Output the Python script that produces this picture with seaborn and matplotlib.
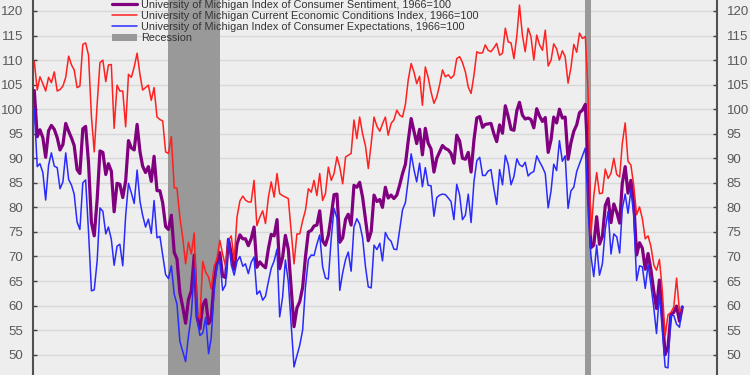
import pandas as pd
import matplotlib
matplotlib.use('Agg')
import matplotlib.pyplot as plt
import seaborn as sns

# 월별 지수 (2004-01 ~ 2022-12)
start_month = '2004-01-01'

sentiment = [
    103.8, 94.4, 95.8, 94.2, 90.2, 95.6, 96.7, 95.9, 94.2, 91.7, 92.8, 97.1,
    95.5, 94.1, 92.6, 87.7, 86.9, 96.0, 96.5, 89.1, 76.9, 74.2, 81.6, 91.5,
    91.2, 86.7, 88.9, 87.4, 79.1, 84.9, 84.7, 82.0, 85.4, 93.6, 92.1, 91.7,
    96.9, 91.3, 88.4, 87.1, 88.3, 85.3, 90.4, 83.4, 83.4, 80.9, 76.1, 75.5,
    78.4, 70.8, 69.5, 62.6, 59.8, 56.4, 61.2, 63.0, 70.3, 57.6, 55.3, 60.1,
    61.2, 56.3, 57.3, 65.1, 68.7, 70.8, 66.0, 65.7, 73.5, 70.6, 67.4, 72.5,
    74.4, 73.6, 73.6, 72.2, 73.6, 76.0, 67.8, 68.9, 68.2, 67.7, 71.6, 74.5,
    74.2, 77.5, 67.5, 69.8, 74.3, 71.5, 63.7, 55.7, 59.5, 60.8, 63.7, 69.9,
    75.0, 75.3, 76.2, 76.4, 79.3, 73.2, 72.3, 74.3, 78.3, 82.6, 82.7, 72.9,
    73.8, 77.6, 78.6, 76.4, 84.5, 84.1, 85.1, 82.1, 77.5, 73.2, 75.1, 82.5,
    81.2, 81.6, 80.0, 84.1, 81.9, 82.5, 81.8, 82.5, 84.6, 86.9, 88.8, 93.6,
    98.1, 95.4, 93.0, 95.9, 90.7, 96.1, 93.1, 91.9, 87.2, 90.0, 91.3, 92.6,
    92.0, 91.7, 91.0, 89.0, 94.7, 93.5, 90.0, 89.8, 91.2, 87.2, 93.8, 98.2,
    98.5, 96.3, 96.9, 97.0, 97.1, 95.0, 93.4, 96.8, 95.1, 100.7, 98.5, 95.9,
    95.7, 99.7, 101.4, 98.8, 98.0, 98.2, 97.9, 96.2, 100.1, 98.6, 97.5, 98.3,
    91.2, 93.8, 98.4, 97.2, 100.0, 98.2, 98.4, 89.8, 93.2, 95.5, 96.8, 99.3,
    99.8, 101.0, 89.1, 71.8, 72.3, 78.1, 72.5, 74.1, 80.4, 81.8, 76.9, 80.7,
    79.0, 76.8, 84.9, 88.3, 82.9, 85.5, 81.2, 70.3, 72.8, 71.7, 67.4, 70.6,
    67.2, 62.8, 59.4, 65.2, 58.4, 50.0, 51.5, 58.2, 58.6, 59.9, 56.8, 59.7,
]

current = [
    109.7, 103.9, 106.6, 105.2, 103.7, 106.5, 105.4, 107.6, 103.7, 104.0, 104.7, 106.5,
    110.8, 109.0, 108.0, 104.4, 104.7, 113.2, 113.5, 111.0, 98.5, 91.3, 101.0, 109.5,
    110.0, 105.6, 109.0, 109.1, 96.1, 104.9, 103.7, 103.7, 96.4, 107.1, 106.5, 108.6,
    111.4, 107.0, 103.9, 104.4, 104.9, 101.8, 104.4, 98.4, 97.9, 97.6, 91.3, 91.0,
    94.4, 84.0, 83.9, 78.0, 73.9, 68.5, 72.9, 70.5, 74.8, 58.0, 57.5, 69.0,
    66.8, 65.8, 63.4, 68.0, 69.5, 73.3, 70.5, 68.0, 73.3, 74.2, 69.2, 78.0,
    81.3, 82.3, 81.5, 81.1, 81.1, 85.5, 76.3, 78.0, 79.3, 76.7, 82.1, 85.2,
    82.1, 86.9, 82.8, 82.4, 82.1, 81.8, 75.3, 68.5, 74.6, 74.6, 77.3, 79.4,
    83.8, 83.1, 85.5, 82.4, 86.9, 81.4, 82.8, 88.2, 85.5, 86.9, 90.3, 88.2,
    84.8, 90.3, 90.6, 91.0, 97.8, 94.0, 98.4, 95.0, 92.5, 87.9, 93.0, 98.4,
    96.5, 95.5, 97.0, 98.4, 94.7, 97.1, 97.8, 99.8, 98.8, 98.4, 101.0, 106.0,
    109.3, 107.5, 105.2, 106.7, 100.8, 108.6, 106.5, 103.5, 101.2, 102.5, 105.0, 108.0,
    106.6, 107.0, 106.3, 106.9, 110.3, 110.7, 109.5, 107.6, 104.5, 103.2, 107.0, 111.7,
    111.4, 111.5, 113.1, 112.0, 111.7, 112.5, 113.4, 111.0, 111.4, 116.5, 113.7, 113.5,
    110.3, 115.0, 121.2, 115.1, 111.7, 116.5, 114.8, 110.0, 115.1, 113.1, 112.0, 116.1,
    108.8, 110.0, 113.3, 112.3, 110.0, 111.9, 110.7, 105.3, 108.5, 113.2, 111.6, 115.5,
    114.4, 114.8, 103.7, 74.3, 82.3, 87.1, 82.8, 82.9, 87.8, 85.9, 87.0, 90.0,
    86.7, 86.2, 93.0, 97.2, 89.4, 88.6, 84.5, 78.5, 80.1, 77.7, 73.6, 74.2,
    72.0, 68.2, 67.2, 69.4, 63.3, 53.8, 58.1, 58.6, 59.7, 65.6, 58.8, 59.4,
]

expectations = [
    100.0, 88.3, 88.9, 87.1, 81.5, 88.6, 91.1, 88.4, 88.1, 83.8, 85.2, 91.1,
    85.7, 84.5, 82.7, 77.0, 75.5, 85.0, 85.6, 75.0, 63.0, 63.2, 69.1, 79.9,
    79.2, 74.6, 76.0, 73.5, 68.2, 72.1, 72.5, 68.1, 78.3, 84.9, 82.9, 80.8,
    87.6, 81.2, 78.4, 76.0, 77.6, 74.7, 81.4, 73.8, 74.1, 70.2, 66.3, 65.5,
    68.1, 62.3, 60.3, 52.7, 50.7, 48.6, 53.7, 58.2, 67.4, 57.3, 53.9, 54.4,
    57.6, 50.2, 53.4, 63.2, 68.2, 69.2, 63.1, 64.2, 73.6, 68.3, 66.2, 69.0,
    70.0, 68.0, 68.5, 66.5, 68.8, 69.9, 62.3, 63.0, 61.1, 61.9, 64.9, 67.6,
    69.1, 71.5, 57.7, 61.7, 69.3, 64.9, 56.2, 47.5, 49.8, 51.9, 55.0, 63.8,
    69.4, 70.3, 70.2, 72.5, 74.4, 67.9, 65.6, 65.4, 73.7, 79.8, 77.8, 63.1,
    66.7, 69.4, 70.9, 67.0, 76.0, 77.7, 76.6, 73.8, 67.9, 63.8, 63.6, 72.3,
    71.4, 72.7, 69.1, 74.9, 73.7, 73.1, 71.5, 71.4, 75.5, 79.5, 81.0, 85.6,
    90.9, 87.6, 85.2, 89.0, 84.2, 88.1, 84.5, 84.4, 78.2, 82.0, 82.5, 82.7,
    82.6, 81.9, 81.2, 77.5, 84.7, 82.5, 77.5, 78.4, 82.7, 76.9, 85.3, 89.5,
    90.2, 86.5, 86.5, 87.4, 87.7, 83.8, 80.6, 87.7, 84.6, 90.6, 88.7, 84.6,
    86.3, 89.9, 88.7, 88.3, 89.2, 86.4, 87.0, 87.3, 90.5, 89.3, 88.2, 86.9,
    79.9, 83.4, 88.8, 87.5, 93.6, 89.4, 90.5, 79.8, 83.4, 84.1, 87.3, 88.9,
    90.5, 92.1, 79.7, 70.1, 65.9, 72.3, 66.2, 68.5, 75.6, 79.2, 70.5, 74.6,
    74.0, 70.7, 79.7, 82.7, 78.8, 83.5, 78.5, 65.1, 68.1, 67.9, 63.5, 68.3,
    64.1, 59.4, 54.3, 62.5, 55.2, 47.5, 47.3, 58.0, 58.0, 56.2, 55.6, 59.9,
]

# 경기침체 구간
recession_start = ['2007-12-01', '2020-02-01']
recession_end = ['2009-06-01', '2020-04-01']

dates = pd.date_range(start_month, periods=len(sentiment), freq='MS')
df = pd.DataFrame({
    'date': dates,
    'sentiment': sentiment,
    'current': current,
    'expectations': expectations,
})

bg = '#eeeeee'
sns.set_style('white', {'axes.facecolor': bg, 'figure.facecolor': bg})
plt.rcParams['font.family'] = ['Liberation Sans', 'DejaVu Sans']

fig = plt.figure(figsize=(7.5, 3.75), dpi=100)
ax = fig.add_axes([33 / 750, 0, (717 - 33) / 750, 1])
ax.set_facecolor(bg)

# 경기침체 음영
for i, (s, e) in enumerate(zip(recession_start, recession_end)):
    ax.axvspan(pd.Timestamp(s), pd.Timestamp(e), color='#999999', lw=0,
               label='Recession' if i == 0 else None, zorder=1)

sns.lineplot(data=df, x='date', y='sentiment', color='#800080', linewidth=2.3,
             label='University of Michigan Index of Consumer Sentiment, 1966=100', ax=ax, zorder=3)
sns.lineplot(data=df, x='date', y='current', color='#ff2020', linewidth=1.1,
             label='University of Michigan Current Economic Conditions Index, 1966=100', ax=ax, zorder=3)
sns.lineplot(data=df, x='date', y='expectations', color='#2a2aff', linewidth=1.1,
             label='University of Michigan Index of Consumer Expectations, 1966=100', ax=ax, zorder=3)

ax.set_xlim(pd.Timestamp('2003-12-18'), pd.Timestamp('2023-12-06'))
ax.set_ylim(45.86, 122.24)
ax.set_yticks(range(50, 125, 5))
ax.set_xticks([])
ax.set_xlabel('')
ax.set_ylabel('')

ax.grid(axis='y', color='#d8d8d8', linewidth=1)
ax.set_axisbelow(True)
ax.tick_params(axis='y', direction='in', length=3, width=1, color='#404040',
               labelsize=9.5, labelcolor='#595959', pad=7,
               left=True, right=True, labelleft=True, labelright=True)
for side in ['left', 'right']:
    ax.spines[side].set_color('#505050')
    ax.spines[side].set_linewidth(1.5)
for side in ['top', 'bottom']:
    ax.spines[side].set_visible(False)

# 범례 순서: 지수 3개 + 침체
handles, labels = ax.get_legend_handles_labels()
order = [labels.index(l) for l in [
    'University of Michigan Index of Consumer Sentiment, 1966=100',
    'University of Michigan Current Economic Conditions Index, 1966=100',
    'University of Michigan Index of Consumer Expectations, 1966=100',
    'Recession']]
leg = ax.legend([handles[i] for i in order], [labels[i] for i in order],
                loc='upper left', bbox_to_anchor=(112 / 750, 1 + 0 / 375),
                bbox_transform=fig.transFigure, frameon=False, fontsize=7.85,
                borderpad=0, borderaxespad=0, labelspacing=0.1,
                handlelength=2.25, handletextpad=0.42)
for t in leg.get_texts():
    t.set_color('#333333')

fig.savefig('out.png', dpi=100, facecolor=bg)
